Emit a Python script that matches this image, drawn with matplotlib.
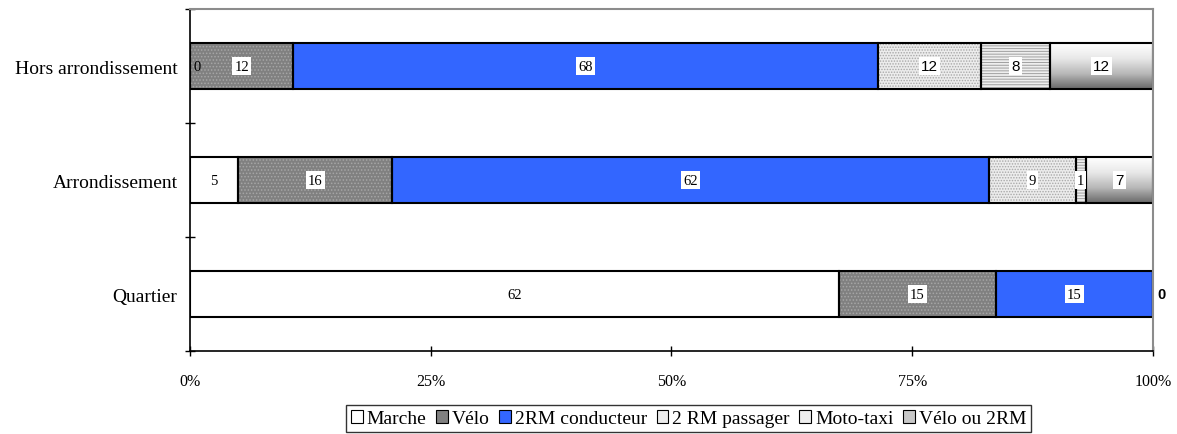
import numpy as np
import matplotlib
matplotlib.use('Agg')
import matplotlib.pyplot as plt
from matplotlib.patches import Patch
from matplotlib.colors import LinearSegmentedColormap

# Data (counts, shown as share of each row)
categories = ['Quartier', 'Arrondissement', 'Hors arrondissement']
series = ['Marche', 'Vélo', '2RM conducteur', '2 RM passager', 'Moto-taxi', 'Vélo ou 2RM']
marche = [62, 5, 0]
velo = [15, 16, 12]
conducteur = [15, 62, 68]
passager = [0, 9, 12]
moto_taxi = [0, 1, 8]
velo_ou_2rm = [0, 7, 12]
x_ticks = [0, 0.25, 0.5, 0.75, 1.0]
x_ticklabels = ['0%', '25%', '50%', '75%', '100%']

serif = ['Liberation Serif', 'DejaVu Serif']
sans = ['Liberation Sans', 'DejaVu Sans']
plt.rcParams['font.family'] = serif
plt.rcParams['hatch.linewidth'] = 0.7

counts = np.array([marche, velo, conducteur, passager, moto_taxi, velo_ou_2rm], dtype=float)
shares = counts / counts.sum(axis=0)

# Style per series: (face, hatch, hatch colour)
styles = [
    ('white', None, None),
    ('#808080', '.....', '#a6a6a6'),
    ('#3366ff', None, None),
    ('#ececec', '......', '#a8a8a8'),
    ('#eeeeee', '------', '#a0a0a0'),
    (None, None, None),  # gradient
]

fig = plt.figure(figsize=(11.77, 4.35), dpi=100)
ax = fig.add_axes([0.1614, 0.1908, 0.8182, 0.7862])

y = np.arange(len(categories))
h = 0.4
grad_cmap = LinearSegmentedColormap.from_list('g', ['#6a6a6a', '#b8b8b8', '#e8e8e8', '#ffffff'])
grad = np.linspace(0, 1, 64).reshape(-1, 1)

left = np.zeros(len(categories))
for i, name in enumerate(series):
    face, hatch, hcol = styles[i]
    w = shares[i]
    if face is None:
        for j in range(len(categories)):
            if w[j] > 0:
                ax.imshow(grad, cmap=grad_cmap, origin='lower', aspect='auto',
                          extent=(left[j], left[j] + w[j], y[j] - h / 2, y[j] + h / 2), zorder=1)
    else:
        ax.barh(y, w, left=left, height=h, color=face, hatch=hatch,
                edgecolor=hcol if hatch else face, linewidth=0, zorder=1)
    ax.barh(y, w, left=left, height=h, fill=False, edgecolor='black', linewidth=1.5, zorder=2)

    # value labels
    for j in range(len(categories)):
        val = int(counts[i, j])
        cx = left[j] + w[j] / 2
        if w[j] == 0:
            continue
        fam, fs = serif, 10.5
        if categories[j] == 'Hors arrondissement' and i >= 3:
            fam, fs = sans, 11
        if i == 5 and categories[j] == 'Arrondissement':
            fam, fs = sans, 11
        ax.text(cx, y[j], str(val), ha='center', va='center', fontsize=fs, family=fam,
                bbox=dict(facecolor='white', edgecolor='none', pad=1.5), zorder=3)
    left = left + w

# zero labels
ax.text(0.004, y[2], str(marche[2]), ha='left', va='center', fontsize=10.5, zorder=3)
ax.text(1.005, y[0], str(passager[0]), ha='left', va='center', fontsize=10.5,
        family=sans, fontweight='bold', zorder=3)

ax.set_xlim(0, 1)
ax.set_ylim(-0.5, 2.5)
ax.set_xticks(x_ticks)
ax.set_xticklabels(x_ticklabels, fontsize=11.5)
ax.set_yticks(y)
ax.set_yticklabels(categories, fontsize=14)
ax.set_yticks([-0.5, 0.5, 1.5, 2.5], minor=True)
ax.tick_params(axis='y', which='major', length=0, pad=9)
ax.tick_params(axis='y', which='minor', length=7, direction='inout', width=1)
ax.tick_params(axis='x', length=7, direction='inout', width=1, pad=12)

for s in ['left', 'bottom']:
    ax.spines[s].set_color('black')
    ax.spines[s].set_linewidth(1.2)
for s in ['top', 'right']:
    ax.spines[s].set_color('#8c8c8c')
    ax.spines[s].set_linewidth(1.5)

handles = []
for i, name in enumerate(series):
    face, hatch, hcol = styles[i]
    if face is None:
        handles.append(Patch(facecolor='#c8c8c8', edgecolor='black', linewidth=0.8, label=name))
    else:
        handles.append(Patch(facecolor=face, edgecolor='black', linewidth=0.8, label=name))
leg = fig.legend(handles=handles, loc='lower center', bbox_to_anchor=(0.585, 0.0), ncol=6,
                 fontsize=14, frameon=True, fancybox=False, handlelength=0.6, handleheight=0.6,
                 handletextpad=0.2, columnspacing=0.5, borderpad=0.25, borderaxespad=0.1)
leg.get_frame().set_edgecolor('black')
leg.get_frame().set_linewidth(1)

plt.savefig('out.png', dpi=100)
